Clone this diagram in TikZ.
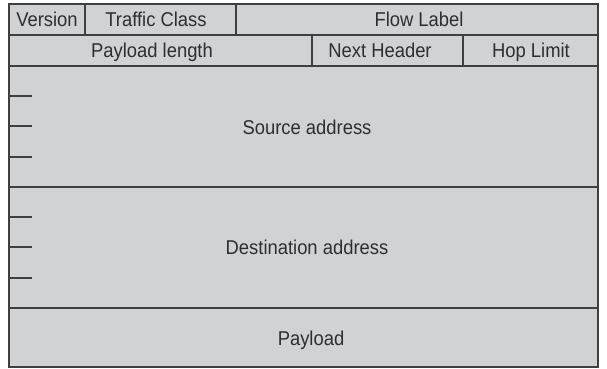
\documentclass[tikz,border=0pt]{standalone}
\usepackage{fontspec}
\setmainfont{Liberation Sans}[FakeStretch=0.92]
\usepackage{tikz}
\definecolor{cellgray}{HTML}{D1D2D4}
\definecolor{rulegray}{HTML}{3F3F3F}
\definecolor{textgray}{HTML}{2E2E2E}
\tikzset{field/.style={text=textgray, font=\fontsize{20}{24}\selectfont, inner sep=0pt,
  text height=1.5ex, text depth=0.3ex}}

\begin{document}
\begin{tikzpicture}[x=1pt, y=1pt, line width=1.6pt]
\useasboundingbox (0,0) rectangle (607,368);
\fill[cellgray] (9,1) rectangle (598,364);

\draw[-, rulegray] (9,1) rectangle (598,364);
\draw[-, rulegray] (9,333) -- (598,333);
\draw[-, rulegray] (9,302) -- (598,302);
\draw[-, rulegray] (9,181) -- (598,181);
\draw[-, rulegray] (9,60) -- (598,60);

\draw[-, rulegray] (85,364) -- (85,333);
\draw[-, rulegray] (236,364) -- (236,333);
\draw[-, rulegray] (312,333) -- (312,302);
\draw[-, rulegray] (463,333) -- (463,302);

% address ticks
\draw[-, rulegray] (9,272) -- (32,272);
\draw[-, rulegray] (9,242) -- (32,242);
\draw[-, rulegray] (9,211) -- (32,211);
\draw[-, rulegray] (9,151) -- (32,151);
\draw[-, rulegray] (9,121) -- (32,121);
\draw[-, rulegray] (9,90) -- (32,90);

\node[field] (version) at (47,344.5) {Version};
\node[field] (traffic) at (156,344.5) {Traffic Class};
\node[field] (flow) at (419,344.5) {Flow Label};
\node[field] (paylen) at (152,313.5) {Payload length};
\node[field] (nexthdr) at (380,313.5) {Next Header};
\node[field] (hoplim) at (531,313.5) {Hop Limit};
\node[field] (src) at (307,237) {Source address};
\node[field] (dst) at (307,116.5) {Destination address};
\node[field] (payload) at (311,26) {Payload};

\end{tikzpicture}
\end{document}
